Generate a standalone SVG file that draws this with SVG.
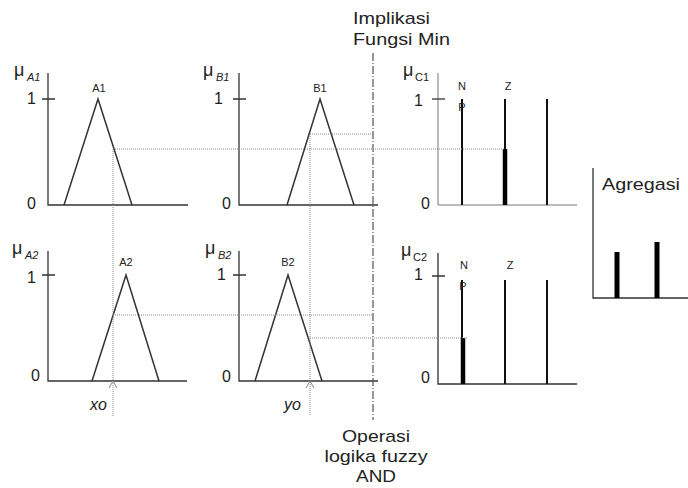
<svg xmlns="http://www.w3.org/2000/svg" width="688" height="488" viewBox="0 0 688 488">
<defs>
<style>
text{font-family:"Liberation Sans",Arial,sans-serif;fill:#222}
.big{font-size:17px}
.num{font-size:16px}
.mu{font-size:18px}
.sub{font-size:11px}
.it{font-style:italic}
.lbl{font-size:11px;text-anchor:middle}
.ax{stroke:#333;stroke-width:1.3;fill:none}
.axl{stroke:#777;stroke-width:1;fill:none}
.tri{stroke:#333;stroke-width:1.5;fill:none}
.bar{stroke:#111;stroke-width:2}
.thick{stroke:#000;stroke-width:4.5}
.dot{stroke:#888;stroke-width:1;stroke-dasharray:1 1;fill:none}
.dd{stroke:#555;stroke-width:1.2;stroke-dasharray:8 2 1 2;fill:none}
.arr{stroke:#888;stroke-width:1;fill:none}
</style>
</defs>
<rect width="688" height="488" fill="#fff"/>

<g id="title-top">
<text class="big" x="353" y="24" textLength="77" lengthAdjust="spacingAndGlyphs">Implikasi</text>
<text class="big" x="353" y="45" textLength="97" lengthAdjust="spacingAndGlyphs">Fungsi Min</text>
</g>
<g id="title-bottom">
<text class="big" x="376" y="442" text-anchor="middle" textLength="68" lengthAdjust="spacingAndGlyphs">Operasi</text>
<text class="big" x="376" y="462" text-anchor="middle" textLength="103" lengthAdjust="spacingAndGlyphs">logika fuzzy</text>
<text class="big" x="376" y="482" text-anchor="middle" textLength="40" lengthAdjust="spacingAndGlyphs">AND</text>
</g>

<g id="panel-A1">
<path class="ax" d="M48,73 V205 H188 M42,99 H55"/>
<path class="tri" d="M64,205 L98,99 L132,205"/>
<text class="mu" x="14" y="76">μ</text><text class="sub it" x="27" y="81">A1</text>
<text class="num" x="27" y="104">1</text>
<text class="num" x="27" y="209">0</text>
<text class="lbl" x="99" y="92">A1</text>
</g>

<g id="panel-B1">
<path class="ax" d="M239,73 V205 H378 M233,99 H246"/>
<path class="tri" d="M287,205 L320,99 L354,205"/>
<text class="mu" x="203" y="76">μ</text><text class="sub it" x="216" y="81">B1</text>
<text class="num" x="214" y="104">1</text>
<text class="num" x="222" y="209">0</text>
<text class="lbl" x="320" y="92">B1</text>
</g>

<g id="panel-C1">
<path class="axl" d="M438,73 V205 H577"/>
<path class="ax" d="M432,99 H445"/>
<path class="bar" d="M462,99 V205 M505,99 V205 M547,99 V205"/>
<path class="thick" d="M505,149 V205"/>
<text class="mu" x="403" y="76">μ</text><text class="sub" x="415" y="81">C1</text>
<text class="num" x="414" y="106">1</text>
<text class="num" x="421" y="209">0</text>
<text class="lbl" x="462" y="90">N</text>
<text class="lbl" x="462" y="111">P</text>
<text class="lbl" x="508" y="90">Z</text>
</g>

<g id="panel-A2">
<path class="ax" d="M48,251 V381 H187 M42,275 H55"/>
<path class="tri" d="M92,381 L126,275 L159,381"/>
<text class="mu" x="12" y="254">μ</text><text class="sub it" x="25" y="259">A2</text>
<text class="num" x="27" y="283">1</text>
<text class="num" x="31" y="381">0</text>
<text class="lbl" x="126" y="266">A2</text>
<text class="num it" x="90" y="410">xo</text>
</g>

<g id="panel-B2">
<path class="ax" d="M239,251 V381 H378 M233,275 H246"/>
<path class="tri" d="M255,381 L288,275 L322,381"/>
<text class="mu" x="205" y="254">μ</text><text class="sub it" x="218" y="259">B2</text>
<text class="num" x="217" y="280">1</text>
<text class="num" x="222" y="382">0</text>
<text class="lbl" x="288" y="266">B2</text>
<text class="num it" x="284" y="410">yo</text>
</g>

<g id="panel-C2">
<path class="ax" d="M438,253 V384 H577 M432,276 H445"/>
<path class="bar" d="M462,280 V384 M505,280 V384 M547,280 V384"/>
<path class="thick" d="M463,338 V384"/>
<text class="mu" x="401" y="256">μ</text><text class="sub" x="413" y="261">C2</text>
<text class="num" x="414" y="280">1</text>
<text class="num" x="421" y="383">0</text>
<text class="lbl" x="464" y="269">N</text>
<text class="lbl" x="463" y="290">P</text>
<text class="lbl" x="510" y="269">Z</text>
</g>

<g id="agregasi">
<path class="ax" d="M593,168 V298 H688"/>
<path class="thick" d="M617,252 V298 M657,242 V298" style="stroke-width:5"/>
<text class="big" x="602" y="190" textLength="78" lengthAdjust="spacingAndGlyphs">Agregasi</text>
</g>

<g id="connectors">
<path class="dd" d="M373,53 V420"/>
<path class="dot" d="M113,149 V417 M310,134 V415"/>
<path class="dot" d="M113,149 H505 M310,134 H373 M113,315 H373 M310,338 H467"/>
<path class="arr" d="M109,388 L113,381 L117,388 M306,388 L310,381 L314,388"/>
</g>
</svg>
